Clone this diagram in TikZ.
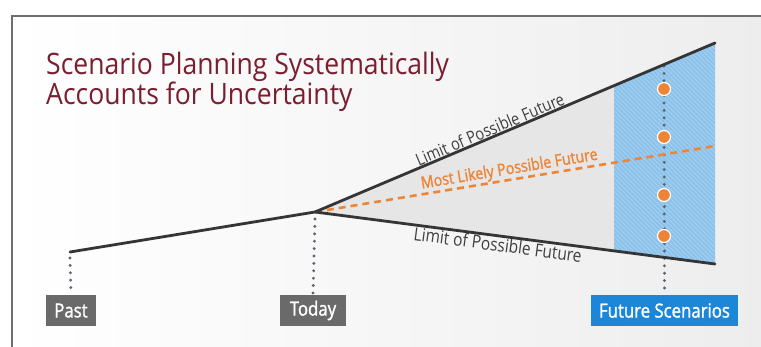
\documentclass[tikz,border=0pt]{standalone}
\usepackage{fontspec}
\setmainfont{Open Sans}[FakeStretch=0.86]
\newfontfamily\titlefont{Open Sans}[FakeStretch=0.9]
\newfontfamily\semifont{Open Sans}[FakeStretch=0.86, FakeBold=1.4]
\usetikzlibrary{calc}
\definecolor{titlered}{HTML}{7A1E30}
\definecolor{linegray}{HTML}{353535}
\definecolor{labelgray}{HTML}{404040}
\definecolor{futorange}{HTML}{EE8436}
\definecolor{hatchblue}{HTML}{8CC2EA}
\definecolor{hatchline}{HTML}{A9D3F2}
\definecolor{boxgray}{HTML}{6A6A6A}
\definecolor{boxblue}{HTML}{1C86D8}
\definecolor{dotgray}{HTML}{5A6172}
\definecolor{conegray}{HTML}{E6E6E6}
\definecolor{framegray}{HTML}{6E6E6E}
\tikzset{
  mainline/.style={draw=linegray, line width=2.8pt, line cap=round},
  likelyline/.style={draw=futorange, line width=2.6pt, dash pattern=on 7pt off 5pt},
  dotline/.style={draw=dotgray, line width=3.2pt, line cap=round, dash pattern=on 0pt off 7.4pt},
  limitlabel/.style={text=labelgray, font=\fontsize{17}{17}\selectfont, inner sep=1.5pt},
  likelylabel/.style={text=futorange, font=\semifont\fontsize{16.5}{16.5}\selectfont, inner sep=1.5pt},
  timebox/.style={fill=boxgray, text=white, minimum height=31pt, inner sep=0pt, font=\semifont\fontsize{19.5}{19.5}\selectfont},
  scenario/.style={circle, fill=futorange, draw=white, line width=1.2pt, minimum size=13pt, inner sep=0pt}
}
\begin{document}
\begin{tikzpicture}[x=1pt, y=-1pt]
\useasboundingbox (0,0) rectangle (761,347);
\fill[white] (0,0) rectangle (761,347);
\shade[left color=white, right color=black!7] (12,16) rectangle (761,347);
\draw[framegray, line width=1.6pt] (12,347) -- (12,16) -- (761,16);
% key points
\coordinate (pastpt) at (70,252);
\coordinate (today) at (315,212);
\coordinate (upend) at (715,43);
\coordinate (lowend) at (715,264);
\coordinate (likelyend) at (715,146);
\coordinate (blueul) at (614,85.7);
\coordinate (bluell) at (614,250.9);
% cone
\fill[conegray] (today) -- (blueul) -- (bluell) -- cycle;
% blue hatched area
\fill[hatchblue] (blueul) -- (upend) -- (lowend) -- (bluell) -- cycle;
\begin{scope}
\clip (blueul) -- (upend) -- (lowend) -- (bluell) -- cycle;
\foreach \k in {0,...,90}{
  \draw[hatchline, line width=0.7pt] (330+4.5*\k,20) -- ++(270,270);
}
\end{scope}
% title
\node[anchor=base west, text=titlered, font=\titlefont\fontsize{29.5}{30}\selectfont, align=left, inner sep=0pt] (title) at (46,105)
  {Scenario Planning Systematically\\Accounts for Uncertainty};
% boxes
\node[timebox, minimum width=50pt] (past) at (71,310.5) {Past};
\node[timebox, minimum width=66pt] (todaybox) at (313,310.5) {Today};
\node[timebox, fill=boxblue, minimum width=147pt] (futbox) at (664.5,310.5) {Future Scenarios};
% dotted verticals
\coordinate (futtop) at (664,66);
\draw[dotline] ($(pastpt)+(0,6)$) -- (past.north);
\draw[dotline] ($(today)+(0,7)$) -- (todaybox.north);
\draw[dotline] (futtop) -- (futbox.north);
% lines
\draw[likelyline] (today) -- (likelyend);
\draw[mainline] (pastpt) -- (today) -- (upend);
\draw[mainline] (today) -- (lowend);
% labels
\path (today) -- (upend) node[pos=0.445, sloped, above, limitlabel] (uplabel) {Limit of Possible Future};
\path (today) -- (lowend) node[pos=0.46, sloped, below, limitlabel, font=\fontsize{18}{18}\selectfont] (lowlabel) {Limit of Possible Future};
\path (today) -- (likelyend) node[pos=0.49, sloped, above, likelylabel] (likelylabel) {Most Likely Possible Future};
% scenario circles
\node[scenario] (s1) at (664,89) {};
\node[scenario] (s2) at (664,137) {};
\node[scenario] (s3) at (664,195) {};
\node[scenario] (s4) at (664,236) {};
\end{tikzpicture}
\end{document}
